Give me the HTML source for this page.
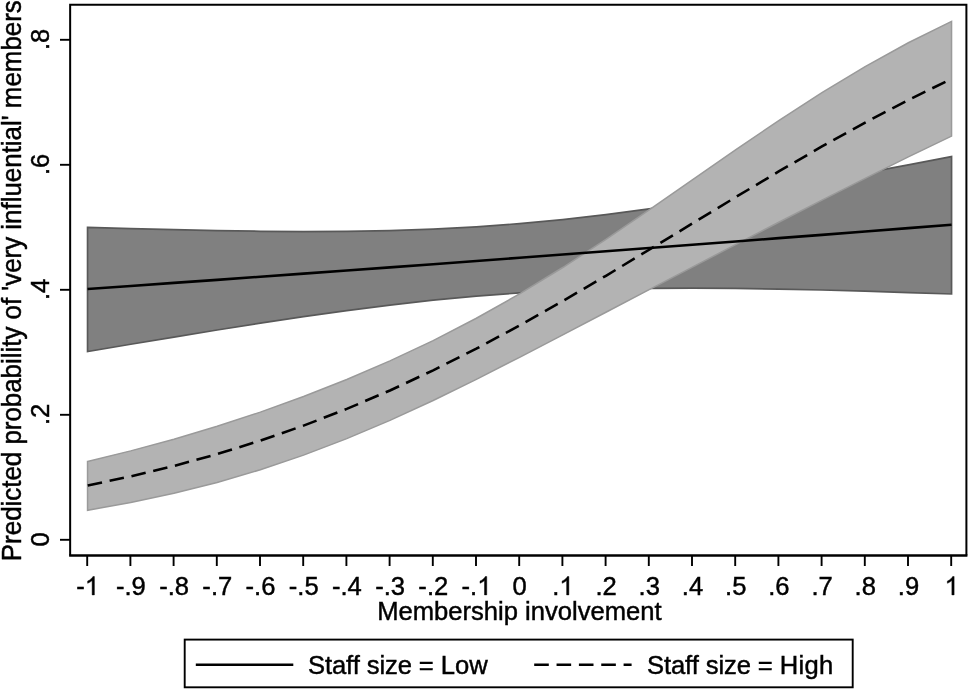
<!DOCTYPE html>
<html><head><meta charset="utf-8"><style>html,body{margin:0;padding:0;background:#fff;width:969px;height:690px;overflow:hidden;position:relative} svg{will-change:transform;filter:grayscale(1)} text{font-variant-ligatures:none;font-feature-settings:"liga" 0,"clig" 0}</style></head>
<body>
<svg width="969" height="690" viewBox="0 0 969 690" style="position:absolute;left:0;top:0">
<polygon points="87.55,227.32 130.75,228.60 173.95,229.72 217.15,230.64 260.35,231.28 303.55,231.57 346.75,231.39 389.95,230.64 433.15,229.17 476.35,226.87 519.55,223.66 562.75,219.53 605.95,214.55 649.15,208.81 692.35,202.43 735.55,195.56 778.75,188.27 821.95,180.68 865.15,172.83 908.35,164.80 951.55,156.61 951.55,293.99 908.35,292.53 865.15,291.19 821.95,290.02 778.75,289.07 735.55,288.40 692.35,288.11 649.15,288.29 605.95,289.07 562.75,290.58 519.55,292.91 476.35,296.11 433.15,300.19 389.95,305.06 346.75,310.61 303.55,316.70 260.35,323.20 217.15,330.02 173.95,337.07 130.75,344.28 87.55,351.60" fill="#808080" stroke="#595959" stroke-width="1.7" stroke-linejoin="miter"/>
<polygon points="87.55,461.45 130.75,450.87 173.95,439.17 217.15,426.27 260.35,412.09 303.55,396.55 346.75,379.54 389.95,360.94 433.15,340.56 476.35,318.25 519.55,293.89 562.75,267.51 605.95,239.36 649.15,209.92 692.35,179.84 735.55,149.82 778.75,120.56 821.95,92.66 865.15,66.62 908.35,42.78 951.55,21.36 951.55,136.14 908.35,156.92 865.15,178.30 821.95,200.13 778.75,222.26 735.55,244.61 692.35,267.08 649.15,289.65 605.95,312.27 562.75,334.88 519.55,357.33 476.35,379.32 433.15,400.46 389.95,420.36 346.75,438.66 303.55,455.15 260.35,469.73 217.15,482.42 173.95,493.30 130.75,502.53 87.55,510.26" fill="#b3b3b3" stroke="#9a9a9a" stroke-width="1.5"/>
<polyline points="87.55,288.96 130.75,285.94 173.95,282.90 217.15,279.83 260.35,276.74 303.55,273.63 346.75,270.50 389.95,267.35 433.15,264.18 476.35,260.99 519.55,257.78 562.75,254.55 605.95,251.31 649.15,248.05 692.35,244.77 735.55,241.48 778.75,238.17 821.95,234.85 865.15,231.51 908.35,228.16 951.55,224.80" fill="none" stroke="#000" stroke-width="2.6"/>
<polyline points="87.55,485.51 130.75,476.38 173.95,465.94 217.15,454.07 260.35,440.66 303.55,425.62 346.75,408.90 389.95,390.47 433.15,370.36 476.35,348.66 519.55,325.51 562.75,301.12 605.95,275.76 649.15,249.76 692.35,223.46 735.55,197.24 778.75,171.46 821.95,146.47 865.15,122.56 908.35,99.97 951.55,78.90" fill="none" stroke="#000" stroke-width="2.6" stroke-dasharray="14.6 7.75" stroke-dashoffset="-0.2"/>
<path d="M70.15 4.8 V555.5 M966.4 555.5 V4.8 H69.15" fill="none" stroke="#000" stroke-width="2"/>
<path d="M69.15 555.5 H967.4" fill="none" stroke="#000" stroke-width="2.4"/>
<line x1="60" y1="539.80" x2="70" y2="539.80" stroke="#000" stroke-width="1.9"/>
<line x1="60" y1="414.80" x2="70" y2="414.80" stroke="#000" stroke-width="1.9"/>
<line x1="60" y1="289.80" x2="70" y2="289.80" stroke="#000" stroke-width="1.9"/>
<line x1="60" y1="164.80" x2="70" y2="164.80" stroke="#000" stroke-width="1.9"/>
<line x1="60" y1="39.80" x2="70" y2="39.80" stroke="#000" stroke-width="1.9"/>
<line x1="87.20" y1="556" x2="87.20" y2="566" stroke="#000" stroke-width="1.9"/>
<line x1="130.40" y1="556" x2="130.40" y2="566" stroke="#000" stroke-width="1.9"/>
<line x1="173.60" y1="556" x2="173.60" y2="566" stroke="#000" stroke-width="1.9"/>
<line x1="216.80" y1="556" x2="216.80" y2="566" stroke="#000" stroke-width="1.9"/>
<line x1="260.00" y1="556" x2="260.00" y2="566" stroke="#000" stroke-width="1.9"/>
<line x1="303.20" y1="556" x2="303.20" y2="566" stroke="#000" stroke-width="1.9"/>
<line x1="346.40" y1="556" x2="346.40" y2="566" stroke="#000" stroke-width="1.9"/>
<line x1="389.60" y1="556" x2="389.60" y2="566" stroke="#000" stroke-width="1.9"/>
<line x1="432.80" y1="556" x2="432.80" y2="566" stroke="#000" stroke-width="1.9"/>
<line x1="476.00" y1="556" x2="476.00" y2="566" stroke="#000" stroke-width="1.9"/>
<line x1="519.20" y1="556" x2="519.20" y2="566" stroke="#000" stroke-width="1.9"/>
<line x1="562.40" y1="556" x2="562.40" y2="566" stroke="#000" stroke-width="1.9"/>
<line x1="605.60" y1="556" x2="605.60" y2="566" stroke="#000" stroke-width="1.9"/>
<line x1="648.80" y1="556" x2="648.80" y2="566" stroke="#000" stroke-width="1.9"/>
<line x1="692.00" y1="556" x2="692.00" y2="566" stroke="#000" stroke-width="1.9"/>
<line x1="735.20" y1="556" x2="735.20" y2="566" stroke="#000" stroke-width="1.9"/>
<line x1="778.40" y1="556" x2="778.40" y2="566" stroke="#000" stroke-width="1.9"/>
<line x1="821.60" y1="556" x2="821.60" y2="566" stroke="#000" stroke-width="1.9"/>
<line x1="864.80" y1="556" x2="864.80" y2="566" stroke="#000" stroke-width="1.9"/>
<line x1="908.00" y1="556" x2="908.00" y2="566" stroke="#000" stroke-width="1.9"/>
<line x1="951.20" y1="556" x2="951.20" y2="566" stroke="#000" stroke-width="1.9"/>
<rect x="184.7" y="639.6" width="668" height="47.7" fill="none" stroke="#000" stroke-width="1.9"/>
<line x1="195.8" y1="664.8" x2="293.3" y2="664.8" stroke="#000" stroke-width="2.6"/>
<line x1="534.2" y1="664.8" x2="631.6" y2="664.8" stroke="#000" stroke-width="2.6" stroke-dasharray="14.6 7.75"/>
<g font-family="Liberation Sans, sans-serif" font-size="25.6" stroke="#000" stroke-width="0.45">
<text transform="translate(76.32,594.9) scale(1,1.04)">-</text>
<path transform="translate(84.85,594.9) scale(0.012500,-0.012500)" stroke-width="36" stroke-linejoin="round" d="M763 0H583V1147Q518 1085 412.5 1023Q307 961 223 930V1104Q374 1175 487 1276Q600 1377 647 1472H763Z"/>
<text transform="translate(130.90,594.9) scale(1,1.04)" text-anchor="middle">-.9</text>
<text transform="translate(174.10,594.9) scale(1,1.04)" text-anchor="middle">-.8</text>
<text transform="translate(217.30,594.9) scale(1,1.04)" text-anchor="middle">-.7</text>
<text transform="translate(260.50,594.9) scale(1,1.04)" text-anchor="middle">-.6</text>
<text transform="translate(303.70,594.9) scale(1,1.04)" text-anchor="middle">-.5</text>
<text transform="translate(346.90,594.9) scale(1,1.04)" text-anchor="middle">-.4</text>
<text transform="translate(390.10,594.9) scale(1,1.04)" text-anchor="middle">-.3</text>
<text transform="translate(433.30,594.9) scale(1,1.04)" text-anchor="middle">-.2</text>
<text transform="translate(461.56,594.9) scale(1,1.04)">-.</text>
<path transform="translate(477.20,594.9) scale(0.012500,-0.012500)" stroke-width="36" stroke-linejoin="round" d="M763 0H583V1147Q518 1085 412.5 1023Q307 961 223 930V1104Q374 1175 487 1276Q600 1377 647 1472H763Z"/>
<text transform="translate(519.70,594.9) scale(1,1.04)" text-anchor="middle">0</text>
<text transform="translate(552.22,594.9) scale(1,1.04)">.</text>
<path transform="translate(559.34,594.9) scale(0.012500,-0.012500)" stroke-width="36" stroke-linejoin="round" d="M763 0H583V1147Q518 1085 412.5 1023Q307 961 223 930V1104Q374 1175 487 1276Q600 1377 647 1472H763Z"/>
<text transform="translate(606.10,594.9) scale(1,1.04)" text-anchor="middle">.2</text>
<text transform="translate(649.30,594.9) scale(1,1.04)" text-anchor="middle">.3</text>
<text transform="translate(692.50,594.9) scale(1,1.04)" text-anchor="middle">.4</text>
<text transform="translate(735.70,594.9) scale(1,1.04)" text-anchor="middle">.5</text>
<text transform="translate(778.90,594.9) scale(1,1.04)" text-anchor="middle">.6</text>
<text transform="translate(822.10,594.9) scale(1,1.04)" text-anchor="middle">.7</text>
<text transform="translate(865.30,594.9) scale(1,1.04)" text-anchor="middle">.8</text>
<text transform="translate(908.50,594.9) scale(1,1.04)" text-anchor="middle">.9</text>
<path transform="translate(944.58,594.9) scale(0.012500,-0.012500)" stroke-width="36" stroke-linejoin="round" d="M763 0H583V1147Q518 1085 412.5 1023Q307 961 223 930V1104Q374 1175 487 1276Q600 1377 647 1472H763Z"/>
<text transform="translate(49.2,539.40) rotate(-90) scale(1,1.04)" text-anchor="middle">0</text>
<text transform="translate(49.2,414.40) rotate(-90) scale(1,1.04)" text-anchor="middle">.2</text>
<text transform="translate(49.2,289.40) rotate(-90) scale(1,1.04)" text-anchor="middle">.4</text>
<text transform="translate(49.2,164.40) rotate(-90) scale(1,1.04)" text-anchor="middle">.6</text>
<text transform="translate(49.2,39.40) rotate(-90) scale(1,1.04)" text-anchor="middle">.8</text>
<text transform="translate(519.4,619.7) scale(1,1.04)" text-anchor="middle">Membership involvement</text>
<text transform="translate(20.7,280.7) rotate(-90) scale(1,1.04)" font-size="25.9" text-anchor="middle">Predicted probability of &#39;very influential&#39; members</text>
<text transform="translate(308,673.9) scale(1,1.04)"><tspan style="letter-spacing:-0.1px">Staff size = </tspan>Low</text>
<text transform="translate(647,673.9) scale(1,1.04)"><tspan style="letter-spacing:-0.1px">Staff size = </tspan><tspan style="letter-spacing:0.3px">High</tspan></text>
</g>
</svg>
</body></html>
